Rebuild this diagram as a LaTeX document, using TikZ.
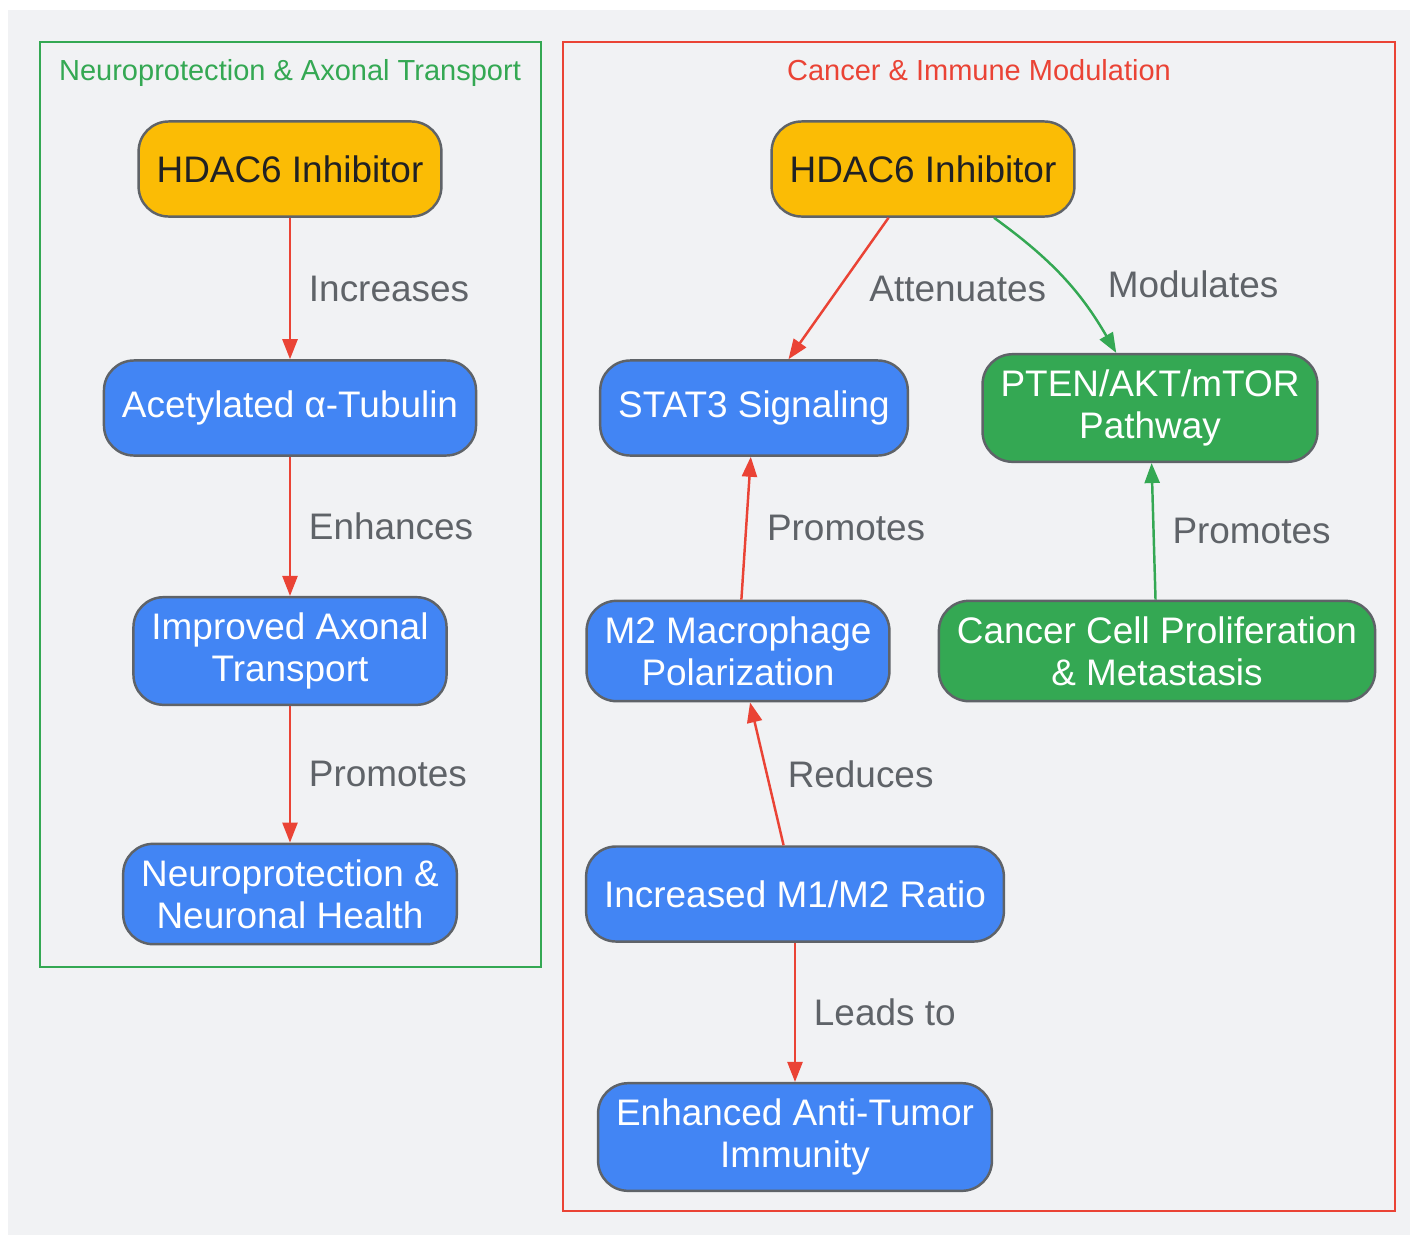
\documentclass[tikz,border=0pt]{standalone}
\usepackage{fontspec}
\setmainfont{Liberation Sans}
\usetikzlibrary{arrows.meta,positioning}
\definecolor{bgGrey}{HTML}{F1F2F4}
\definecolor{gYellow}{HTML}{FBBC05}
\definecolor{gBlue}{HTML}{4285F4}
\definecolor{gGreen}{HTML}{34A853}
\definecolor{gRed}{HTML}{EA4335}
\definecolor{gGrey}{HTML}{5F6368}
\definecolor{gDark}{HTML}{202124}

\begin{document}
\begin{tikzpicture}[x=0.01cm, y=-0.01cm,
  >={Stealth[length=0.2cm,width=0.15cm,inset=0pt]},
  box/.style={draw=gGrey, line width=0.7pt, rounded corners=0.3cm, align=center,
    inner xsep=0.18cm, inner ysep=0.155cm, minimum height=0.95cm,
    font=\fontsize{10.5}{12}\selectfont},
  ybox/.style={box, fill=gYellow, text=gDark},
  bbox/.style={box, fill=gBlue, text=white},
  gbox/.style={box, fill=gGreen, text=white},
  lbl/.style={text=gGrey, font=\fontsize{10.5}{12}\selectfont},
  ttl/.style={font=\fontsize{8.25}{10}\selectfont, anchor=base},
  redarr/.style={->, gRed, line width=0.7pt},
  grnarr/.style={->, gGreen, line width=0.7pt}]
  \useasboundingbox (0,0) rectangle (1418,1236);
  \fill[bgGrey] (8,10) rectangle (1410,1235);

  % Left group: neuroprotection
  \draw[gGreen, line width=0.7pt] (40,42) rectangle (541,967);
  \node[ttl, text=gGreen] (ttlL) at (290,80) {Neuroprotection \& Axonal Transport};
  \node[ybox] (hdacL) at (290,169) {HDAC6 Inhibitor};
  \node[bbox] (tub) at (290,408) {Acetylated α-Tubulin};
  \node[bbox] (axon) at (290,651) {Improved Axonal\\Transport};
  \node[bbox] (neuro) at (290,894) {Neuroprotection \&\\Neuronal Health};
  \draw[redarr] (hdacL) -- node[lbl, right=0.06cm] (lInc) {Increases} (tub);
  \draw[redarr] (tub) -- node[lbl, right=0.06cm] (lEnh) {Enhances} (axon);
  \draw[redarr] (axon) -- node[lbl, right=0.06cm] (lProL) {Promotes} (neuro);

  % Right group: cancer and immunity
  \draw[gRed, line width=0.7pt] (563,42) rectangle (1395,1211);
  \node[ttl, text=gRed] (ttlR) at (979,80) {Cancer \& Immune Modulation};
  \node[ybox] (hdacR) at (923,169) {HDAC6 Inhibitor};
  \node[bbox] (stat) at (754,408) {STAT3 Signaling};
  \node[gbox] (pten) at (1150,408) {PTEN/AKT/mTOR\\Pathway};
  \node[bbox] (mtwo) at (738,651) {M2 Macrophage\\Polarization};
  \node[gbox] (canc) at (1157,651) {Cancer Cell Proliferation\\\& Metastasis};
  \node[bbox] (ratio) at (795,894) {Increased M1/M2 Ratio};
  \node[bbox] (immun) at (795,1137) {Enhanced Anti-Tumor\\Immunity};
  \draw[redarr] (hdacR) -- node[lbl, right=0.18cm] (lAtt) {Attenuates} (stat);
  \draw[grnarr] (hdacR) to[bend left=12] node[lbl, pos=0.55, right=0.26cm] (lMod) {Modulates} (pten);
  \draw[redarr] (mtwo) -- node[lbl, right=0.08cm] (lProS) {Promotes} (stat);
  \draw[grnarr] (canc) -- node[lbl, right=0.06cm] (lProP) {Promotes} (pten);
  \draw[redarr] (ratio) -- node[lbl, right=0.08cm] (lRed) {Reduces} (mtwo);
  \draw[redarr] (ratio) -- node[lbl, right=0.06cm] (lLead) {Leads to} (immun);
\end{tikzpicture}
\end{document}
